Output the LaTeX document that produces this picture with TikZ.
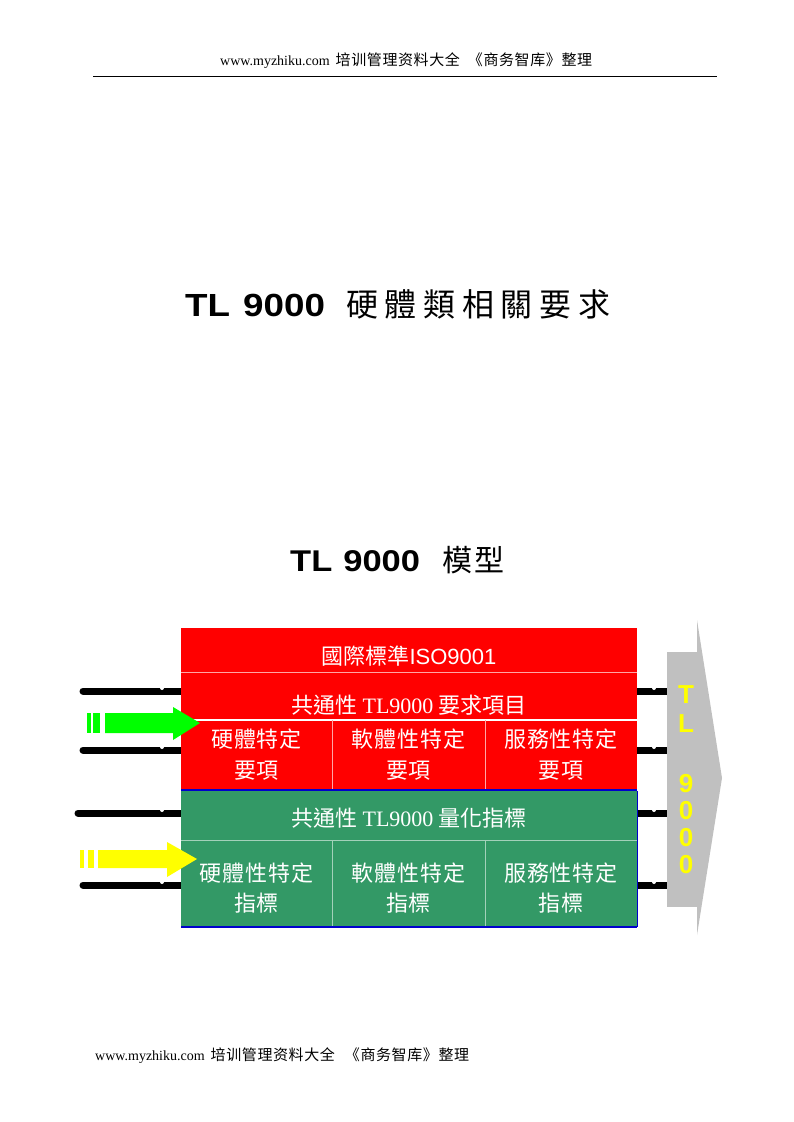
\documentclass[tikz,border=0pt]{standalone}
\usepackage{fontspec}
\setmainfont{Liberation Serif}
\newfontfamily\arialfont{Liberation Sans}
\newfontfamily\widearial[FakeStretch=1.15]{Liberation Sans}
\newfontfamily\tcfont{Noto Sans CJK TC}
\newfontfamily\tcwide[LetterSpace=4]{Noto Sans CJK TC}
\newfontfamily\tctitle[LetterSpace=21]{Noto Sans CJK TC}
\newfontfamily\tcmodel[LetterSpace=7]{Noto Sans CJK TC}
\newfontfamily\scwide[LetterSpace=4]{Noto Sans CJK SC}
\usetikzlibrary{positioning, calc, backgrounds}

\definecolor{reqred}{HTML}{FF0000}
\definecolor{kpigreen}{HTML}{339966}
\definecolor{arrowgray}{HTML}{C0C0C0}
\definecolor{edgeblue}{HTML}{0000CC}
\definecolor{ingreen}{HTML}{00FF00}
\definecolor{inyellow}{HTML}{FFFF00}

\newcommand{\sitecn}[1]{{\scwide\fontsize{15}{16}\selectfont #1}}

\tikzset{
pagetext/.style={anchor=west, inner sep=0pt, font=\fontsize{14}{16}\selectfont}, % header and footer lines
headline/.style={anchor=west, inner sep=0pt, font=\widearial\bfseries\fontsize{32}{36}\selectfont}, % the two big titles
cell/.style={inner sep=0pt, outer sep=0pt}, % one box of the model
celltext/.style={text=white, align=center, inner sep=0pt, font=\tcfont\fontsize{22}{31}\selectfont}, % white text in the boxes
pinbar/.style={line width=7pt, black}, % black connector bars
pinnotch/.style={fill=white}, % small notch on top of a bar
redline/.style={reqred!35!white, line width=1pt}, % thin lines in the red part
greenline/.style={kpigreen!45!white, line width=1pt}, % thin lines in the green part
blueline/.style={edgeblue, line width=1.5pt}, % blue lower edges
tlletters/.style={text=inyellow, align=center, inner sep=0pt, font=\arialfont\bfseries\fontsize{26}{27}\selectfont}, % letters on the gray arrow
}

\begin{document}
\begin{tikzpicture}[x=1pt, y=-1pt]
\useasboundingbox (0,0) rectangle (793,1122);

% header and footer
\node[pagetext] (head) at (220,61) {www.myzhiku.com\hspace{6pt}\sitecn{培训管理资料大全}\hspace{8pt}\sitecn{《商务智库》整理}};
\coordinate (hl) at (93,76);
\coordinate (hr) at (717,76);
\draw[line width=1pt] (hl) -- (hr);
\node[pagetext] (foot) at (95,1056) {www.myzhiku.com\hspace{6pt}\sitecn{培训管理资料大全}\hspace{10pt}\sitecn{《商务智库》整理}};

% titles
\node[headline] (title) at (185,304) {TL\hspace{13pt}9000\hspace{21pt}{\tctitle\mdseries 硬體類相關要求}};
\node[headline, font=\widearial\bfseries\fontsize{30}{34}\selectfont] (model) at (290,560) {TL\hspace{11pt}9000\hspace{22pt}{\tcmodel\mdseries 模型}};

% red part
\node[cell, fill=reqred, minimum width=456pt, minimum height=44pt] (iso) at (409,650) {};
\node[cell, fill=reqred, minimum width=456pt, minimum height=48pt, below=0pt of iso] (common) {};
\node[cell, fill=reqred, minimum width=151pt, minimum height=69pt, anchor=north west] (hwreq) at (common.south west) {};
\node[cell, fill=reqred, minimum width=153pt, minimum height=69pt, right=0pt of hwreq] (swreq) {};
\node[cell, fill=reqred, minimum width=152pt, minimum height=69pt, right=0pt of swreq] (svreq) {};

% green part
\node[cell, fill=kpigreen, minimum width=456pt, minimum height=49pt, anchor=north west] (kpicommon) at ([yshift=-2pt]hwreq.south west) {};
\node[cell, fill=kpigreen, minimum width=151pt, minimum height=87pt, anchor=north west] (hwkpi) at (kpicommon.south west) {};
\node[cell, fill=kpigreen, minimum width=153pt, minimum height=87pt, right=0pt of hwkpi] (swkpi) {};
\node[cell, fill=kpigreen, minimum width=152pt, minimum height=87pt, right=0pt of swkpi] (svkpi) {};

% lines between the boxes
\draw[redline] (iso.south west) -- (iso.south east);
\draw[white, line width=2pt] (common.south west) -- (common.south east);
\draw[redline] (hwreq.north east) -- (hwreq.south east);
\draw[redline] (swreq.north east) -- (swreq.south east);
\draw[blueline] ([yshift=-0.75pt]hwreq.south west) -- ([yshift=-0.75pt]svreq.south east);
\draw[greenline] (kpicommon.south west) -- (kpicommon.south east);
\draw[greenline] (hwkpi.north east) -- (hwkpi.south east);
\draw[greenline] (swkpi.north east) -- (swkpi.south east);
\draw[blueline] (hwkpi.south west) -- (svkpi.south east);
\draw[edgeblue, line width=1pt] (kpicommon.north east) -- (svkpi.south east);

% texts
\node[celltext] (isotext) at ([yshift=-6pt]iso.center) {國際標準{\arialfont ISO9001}};
\node[celltext] (commontext) at ([yshift=-9pt]common.center) {共通性 {\rmfamily TL9000} 要求項目};
\node[celltext, font=\tcwide\fontsize{22}{31}\selectfont] (hwreqtext) at (hwreq.center) {硬體特定\\要項};
\node[celltext, font=\tcwide\fontsize{22}{31}\selectfont] (swreqtext) at (swreq.center) {軟體性特定\\要項};
\node[celltext, font=\tcwide\fontsize{22}{31}\selectfont] (svreqtext) at (svreq.center) {服務性特定\\要項};
\node[celltext] (kpicommontext) at ([yshift=-2.5pt]kpicommon.center) {共通性 {\rmfamily TL9000} 量化指標};
\node[celltext, font=\tcwide\fontsize{22}{30}\selectfont] (hwkpitext) at ([yshift=-5pt]hwkpi.center) {硬體性特定\\指標};
\node[celltext, font=\tcwide\fontsize{22}{30}\selectfont] (swkpitext) at ([yshift=-5pt]swkpi.center) {軟體性特定\\指標};
\node[celltext, font=\tcwide\fontsize{22}{30}\selectfont] (svkpitext) at ([yshift=-5pt]svkpi.center) {服務性特定\\指標};

% gray TL 9000 arrow
\node[cell, fill=arrowgray, minimum width=30pt, minimum height=255pt] (tlbody) at (682,779.5) {};
\coordinate (tltip) at (722,778);
\fill[arrowgray] (tlbody.north east) -- ([yshift=32pt]tlbody.north east) -- (tltip) -- ([yshift=-28pt]tlbody.south east) -- (tlbody.south east) -- cycle;
\node[tlletters] (tltext) at (686,780) {T\\[2pt]L\\[33pt]9\\0\\0\\0};

% black bars behind the boxes
\begin{scope}[on background layer]
\foreach \x/\y [count=\i] in {83/691, 83/750, 78/813, 83/885} {
  \coordinate (lb\i) at (\x,\y);
  \draw[pinbar, line cap=round] (lb\i) -- (lb\i -| iso.west);
  \draw[pinbar] (lb\i -| iso.east) -- (lb\i -| tlbody.west);
  \fill[pinnotch] ([yshift=3pt]162,\y) circle (2pt);
  \fill[pinnotch] ([yshift=3pt]654,\y) circle (2pt);
}
\end{scope}

% input arrows
\fill[ingreen] (105,713) -- (173,713) -- (173,707) -- (200,723) -- (173,740) -- (173,733) -- (105,733) -- cycle;
\fill[ingreen] (87,713) rectangle (91,733);
\fill[ingreen] (93,713) rectangle (100,733);
\fill[inyellow] (98,850) -- (167,850) -- (167,842) -- (197,859) -- (167,877) -- (167,868) -- (98,868) -- cycle;
\fill[inyellow] (80,850) rectangle (84,868);
\fill[inyellow] (88,850) rectangle (94,868);
\end{tikzpicture}
\end{document}
